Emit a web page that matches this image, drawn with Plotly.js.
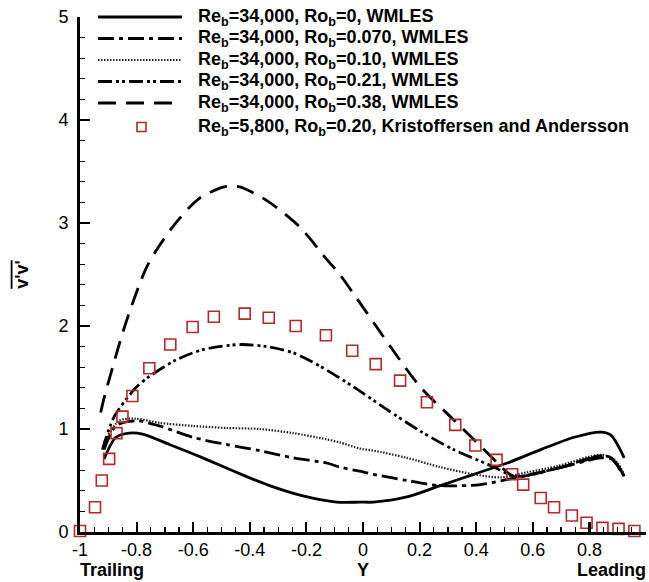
<!DOCTYPE html>
<html>
<head>
<meta charset="utf-8">
<script src="https://cdn.plot.ly/plotly-3.0.1.min.js"></script>
<style>html,body{margin:0;padding:0;background:#fff;}#chart{width:649px;height:582px;}</style>
</head>
<body>
<div id="chart"></div>
<script>
// ---- data ----
const ro0_x = [-0.915,-0.873,-0.826,-0.779,-0.684,-0.566,-0.448,-0.33,-0.212,-0.093,-0.011,0.037,0.155,0.273,0.391,0.51,0.628,0.746,0.84,0.876,0.923];
const ro0_y = [0.71,0.92,0.96,0.95,0.85,0.72,0.58,0.45,0.35,0.29,0.29,0.29,0.34,0.45,0.56,0.67,0.80,0.92,0.97,0.94,0.72];

const ro007_x = [-0.915,-0.873,-0.803,-0.72,-0.602,-0.483,-0.365,-0.247,-0.129,-0.082,-0.011,0.037,0.155,0.273,0.415,0.51,0.628,0.746,0.84,0.882,0.923];
const ro007_y = [0.80,1.03,1.08,1.03,0.92,0.85,0.79,0.72,0.67,0.63,0.59,0.56,0.50,0.45,0.46,0.51,0.58,0.66,0.72,0.705,0.54];

const ro010_x = [-0.915,-0.862,-0.803,-0.72,-0.602,-0.483,-0.365,-0.247,-0.129,-0.082,-0.011,0.037,0.155,0.273,0.391,0.486,0.58,0.687,0.84,0.888,0.923];
const ro010_y = [0.87,1.08,1.10,1.06,1.03,1.01,1.00,0.96,0.90,0.87,0.81,0.79,0.72,0.63,0.56,0.53,0.58,0.64,0.75,0.705,0.56];

const ro021_x = [-0.921,-0.879,-0.803,-0.755,-0.661,-0.566,-0.436,-0.341,-0.247,-0.152,-0.034,0.084,0.202,0.32,0.439,0.545,0.687,0.84,0.876,0.923];
const ro021_y = [0.80,1.12,1.40,1.51,1.67,1.77,1.82,1.80,1.74,1.61,1.41,1.19,0.98,0.80,0.66,0.54,0.62,0.74,0.72,0.54];

const ro038_x = [-0.927,-0.915,-0.897,-0.838,-0.761,-0.673,-0.578,-0.483,-0.436,-0.341,-0.223,-0.129,-0.082,-0.035,0.084,0.202,0.32,0.439,0.486,0.532,0.628,0.746,0.84,0.876,0.923];
const ro038_y = [1.16,1.30,1.48,2.03,2.59,2.96,3.24,3.355,3.35,3.22,2.96,2.65,2.50,2.32,1.85,1.41,1.09,0.77,0.64,0.54,0.58,0.66,0.74,0.72,0.54];

const exp_x = [-1,-0.947,-0.923,-0.897,-0.871,-0.85,-0.815,-0.755,-0.681,-0.602,-0.527,-0.418,-0.333,-0.238,-0.131,-0.038,0.045,0.131,0.226,0.326,0.397,0.472,0.527,0.566,0.628,0.675,0.738,0.79,0.846,0.903,0.959];
const exp_y = [0.01,0.24,0.50,0.71,0.96,1.12,1.32,1.59,1.82,1.99,2.09,2.12,2.08,2.00,1.91,1.76,1.63,1.47,1.26,1.04,0.84,0.70,0.56,0.46,0.33,0.24,0.16,0.09,0.04,0.03,0.01];

const seriesNames = [
  "Re<sub>b</sub>=34,000, Ro<sub>b</sub>=0, WMLES",
  "Re<sub>b</sub>=34,000, Ro<sub>b</sub>=0.070, WMLES",
  "Re<sub>b</sub>=34,000, Ro<sub>b</sub>=0.10, WMLES",
  "Re<sub>b</sub>=34,000, Ro<sub>b</sub>=0.21, WMLES",
  "Re<sub>b</sub>=34,000, Ro<sub>b</sub>=0.38, WMLES",
  "Re<sub>b</sub>=5,800, Ro<sub>b</sub>=0.20, Kristoffersen and Andersson"
];

const xTickVals = [-1,-0.8,-0.6,-0.4,-0.2,0,0.2,0.4,0.6,0.8,1];
const xTickText = ["-1","-0.8","-0.6","-0.4","-0.2","0","0.2","0.4","0.6","0.8","1"];
const yTickVals = [0,1,2,3,4,5];
const yTickText = ["0","1","2","3","4","5"];

// ---- styles ----
const FONT = "Arial, 'Liberation Sans', sans-serif";
const RED = "#b22a2a";
const lineStyles = [
  {color:"#000", width:2.8, dash:"solid"},
  {color:"#000", width:2.8, dash:"16px,5px,4px,5px"},
  {color:"#222", width:2.2, dash:"1.5px,1.5px"},
  {color:"#000", width:2.8, dash:"14px,4px,3px,3px,3px,4px"},
  {color:"#000", width:2.8, dash:"18px,10px"}
];
const xs = [ro0_x, ro007_x, ro010_x, ro021_x, ro038_x];
const ys = [ro0_y, ro007_y, ro010_y, ro021_y, ro038_y];

const traces = xs.map((x,i)=>({
  type:"scatter", mode:"lines", x:x, y:ys[i], name:seriesNames[i],
  line:Object.assign({shape:"spline", smoothing:0.8}, lineStyles[i]),
  showlegend:false, hoverinfo:"skip", cliponaxis:false
}));
traces.push({
  type:"scatter", mode:"markers", x:exp_x, y:exp_y, name:seriesNames[5],
  marker:{symbol:"square-open", size:11, color:RED, line:{width:1.6, color:RED}},
  showlegend:false, hoverinfo:"skip", cliponaxis:false
});

// ---- hand-drawn legend (long line samples like the original) ----
const L = 80, R = 3, T = 17, B = 50, W = 649, H = 582;
const pw = W - L - R, ph = H - T - B;
const px2x = p => (p - L) / pw;
const py2y = p => (H - B - p) / ph;
const rowY = [17,38.5,60,81.5,103,127];
const shapes = [];
const annotations = [];
for (let i = 0; i < 5; i++) {
  shapes.push({type:"line", xref:"paper", yref:"paper",
    x0:px2x(98), x1:px2x(182), y0:py2y(rowY[i]), y1:py2y(rowY[i]),
    line:{color:lineStyles[i].color, width:lineStyles[i].width, dash:lineStyles[i].dash}});
}
shapes.push({type:"rect", xref:"paper", yref:"paper",
  x0:px2x(137), x1:px2x(146), y0:py2y(rowY[5]+4.5), y1:py2y(rowY[5]-4.5),
  line:{color:RED, width:1.6}, fillcolor:"rgba(0,0,0,0)"});
for (let i = 0; i < 6; i++) {
  annotations.push({xref:"paper", yref:"paper", x:px2x(196), y:py2y(rowY[i]),
    xanchor:"left", yanchor:"middle", showarrow:false, height:21,
    text:"<b>"+seriesNames[i]+"</b>", font:{family:FONT, size:18, color:"#000"}});
}
annotations.push({xref:"paper", yref:"paper", x:px2x(78), y:py2y(570), xanchor:"left", yanchor:"middle",
  showarrow:false, text:"<b>Trailing</b>", font:{family:FONT, size:18, color:"#000"}});
annotations.push({xref:"paper", yref:"paper", x:px2x(648), y:py2y(570), xanchor:"right", yanchor:"middle",
  showarrow:false, text:"<b>Leading</b>", font:{family:FONT, size:18, color:"#000"}});

const layout = {
  width:W, height:H,
  margin:{l:L, r:R, t:T, b:B, pad:0},
  paper_bgcolor:"#fff", plot_bgcolor:"#fff",
  font:{family:FONT, size:18, color:"#000"},
  showlegend:false,
  xaxis:{
    range:[-1,1], showgrid:false, zeroline:false,
    showline:true, linecolor:"#000", linewidth:2.8, mirror:false,
    ticks:"inside", ticklen:10, tickwidth:2.2, tickcolor:"#000",
    tickmode:"array", tickvals:xTickVals, ticktext:xTickText,
    tickfont:{family:FONT, size:18, color:"#000"},
    minor:{ticks:"inside", dtick:0.05, tick0:-1, ticklen:5, tickwidth:1.2, tickcolor:"#000", showgrid:false},
    title:{text:"<b>Y</b>", font:{family:FONT, size:18, color:"#000"}, standoff:2}
  },
  yaxis:{
    range:[0,5], showgrid:false, zeroline:false,
    showline:true, linecolor:"#000", linewidth:2.8, mirror:false,
    ticks:"inside", ticklen:10, tickwidth:2.2, tickcolor:"#000",
    tickmode:"array", tickvals:yTickVals, ticktext:yTickText,
    tickfont:{family:FONT, size:18, color:"#000"},
    ticklabelstandoff:5,
    minor:{ticks:"inside", dtick:0.2, tick0:0, ticklen:5, tickwidth:1.2, tickcolor:"#000", showgrid:false},
    title:{text:"<b><span style=\"text-decoration:overline\">v'v'</span></b>", font:{family:FONT, size:18, color:"#000"}, standoff:26}
  },
  shapes:shapes,
  annotations:annotations
};

Plotly.newPlot("chart", traces, layout, {displayModeBar:false, staticPlot:true});
</script>
</body>
</html>
